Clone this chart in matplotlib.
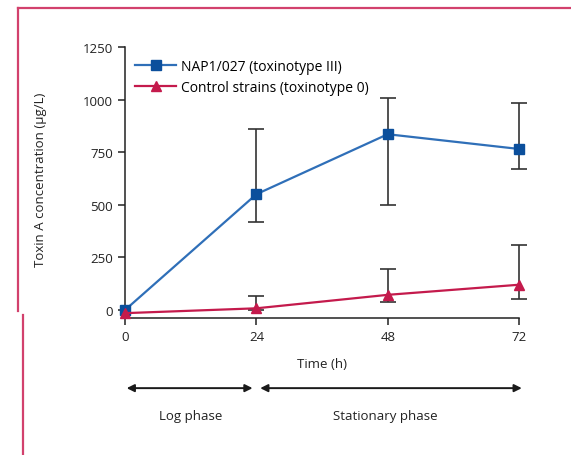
# Toxin A concentration over time
import matplotlib.pyplot as plt
from matplotlib.lines import Line2D
import numpy as np

plt.rcParams['font.family'] = ['Open Sans', 'DejaVu Sans']

time_h = [0, 24, 48, 72]
nap1_mean = [0, 550, 835, 765]
nap1_lower = [0, 418, 500, 670]
nap1_upper = [0, 858, 1005, 982]
ctrl_mean = [-15, 8, 72, 120]
ctrl_lower = [-15, 0, 38, 52]
ctrl_upper = [-15, 68, 195, 308]

yticks = [0, 250, 500, 750, 1000, 1250]
xticks = [0, 24, 48, 72]

blue = '#2f6fb8'
blue_mk = '#0b4f9c'
red = '#c41a4c'
err_col = '#333333'
border = '#d2416d'
fs = 9.5

fig = plt.figure(figsize=(5.71, 4.56), dpi=100)
ax = fig.add_axes([0.219, 0.318, 0.690, 0.577])

def draw_err(mean, lo, hi):
    mean = np.array(mean)
    yerr = [mean - np.array(lo), np.array(hi) - mean]
    ax.errorbar(time_h[1:], mean[1:], yerr=[yerr[0][1:], yerr[1][1:]],
                fmt='none', ecolor=err_col, elinewidth=1.2, capsize=6,
                capthick=1.2, zorder=2, clip_on=False)

draw_err(nap1_mean, nap1_lower, nap1_upper)
draw_err(ctrl_mean, ctrl_lower, ctrl_upper)

ax.plot(time_h, nap1_mean, color=blue, lw=1.6, marker='s', markersize=7,
        markerfacecolor=blue_mk, markeredgecolor=blue_mk,
        label='NAP1/027 (toxinotype III)', zorder=3, clip_on=False)
ax.plot(time_h, ctrl_mean, color=red, lw=1.6, marker='^', markersize=7,
        markerfacecolor=red, markeredgecolor=red,
        label='Control strains (toxinotype 0)', zorder=4, clip_on=False)

ax.set_xlim(0, 72)
ax.set_ylim(0, 1250)
ax.set_xticks(xticks)
ax.set_yticks(yticks)
ax.tick_params(labelsize=fs, length=5, width=1.1, color='#222222',
               labelcolor='#222222')
ax.spines['top'].set_visible(False)
ax.spines['right'].set_visible(False)
ax.spines['bottom'].set_position(('outward', 6))
for s in ['left', 'bottom']:
    ax.spines[s].set_linewidth(1.1)
    ax.spines[s].set_color('#222222')

ax.set_xlabel('Time (h)', fontsize=fs, color='#222222', labelpad=10)
ax.set_ylabel('Toxin A concentration (\u00b5g/L)', fontsize=fs,
              color='#222222', labelpad=26)

ax.legend(loc='upper left', bbox_to_anchor=(0.0, 0.99), frameon=False,
          fontsize=10, handlelength=3.0, handletextpad=0.35,
          labelspacing=0.4, borderaxespad=0.3)

# growth phase arrows below the axis
trans = ax.get_xaxis_transform()
arrow_y = -0.297
ax.annotate('', xy=(0.3, arrow_y), xytext=(23.3, arrow_y), xycoords=trans,
            textcoords=trans, annotation_clip=False,
            arrowprops=dict(arrowstyle='<|-|>', color='#1a1a1a', lw=1.4,
                            mutation_scale=11, shrinkA=0, shrinkB=0))
ax.annotate('', xy=(24.7, arrow_y), xytext=(72.5, arrow_y), xycoords=trans,
            textcoords=trans, annotation_clip=False,
            arrowprops=dict(arrowstyle='<|-|>', color='#1a1a1a', lw=1.4,
                            mutation_scale=11, shrinkA=0, shrinkB=0))
ax.text(12, -0.40, 'Log phase', transform=trans, ha='center', va='center',
        fontsize=fs, color='#222222')
ax.text(47.5, -0.40, 'Stationary phase', transform=trans, ha='center',
        va='center', fontsize=fs, color='#222222')

# pink frame lines
fig.add_artist(Line2D([18 / 571, 1.0], [1 - 9 / 456, 1 - 9 / 456],
                      color=border, lw=1.6))
fig.add_artist(Line2D([18 / 571, 18 / 571], [1 - 9 / 456, 1 - 312 / 456],
                      color=border, lw=1.6))
fig.add_artist(Line2D([23 / 571, 23 / 571], [1 - 316 / 456, 0],
                      color=border, lw=1.6))

plt.savefig('out.png', dpi=100)
